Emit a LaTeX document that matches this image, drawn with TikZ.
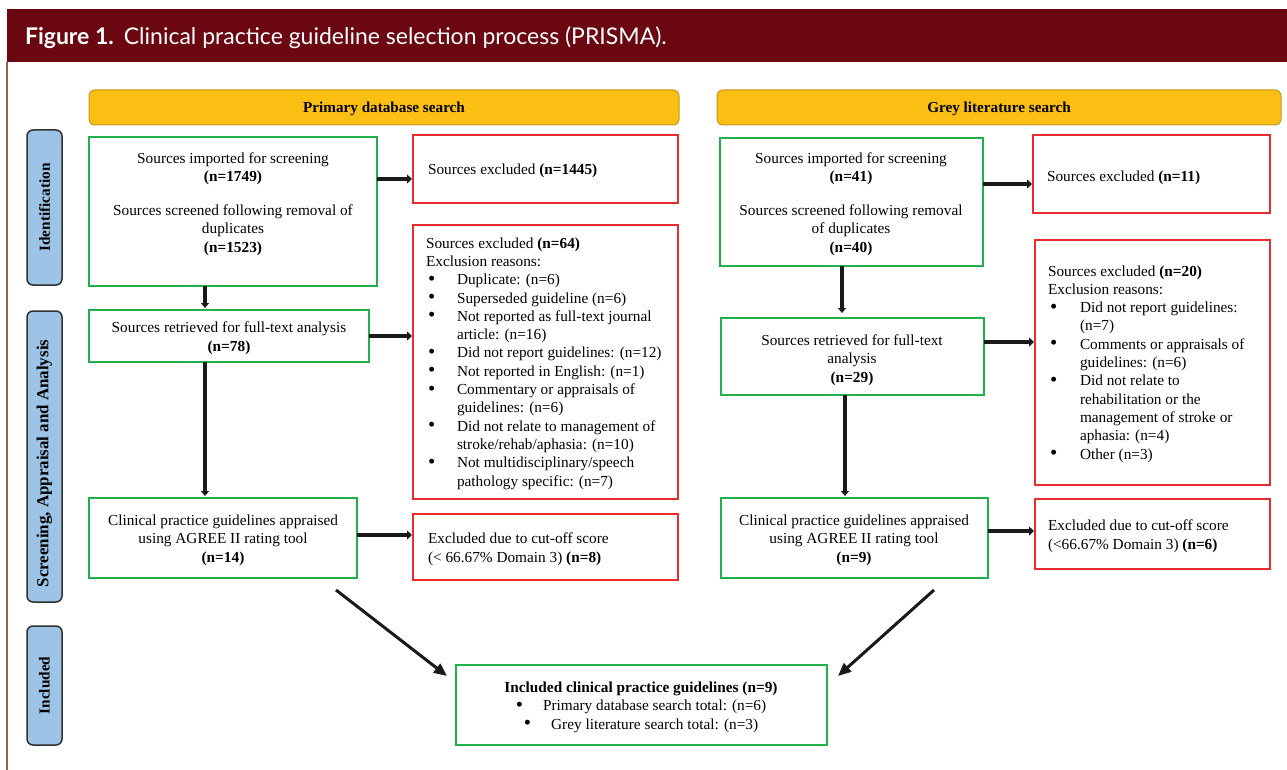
\documentclass[tikz,border=0pt]{standalone}
\usepackage{fontspec}
\setmainfont{Liberation Serif}
\newfontfamily\hfont{Lato}
\usetikzlibrary{arrows.meta,calc}
\definecolor{hdr}{HTML}{6B0710}
\definecolor{hdrline}{HTML}{A05A5A}
\definecolor{orangefill}{HTML}{FBBF13}
\definecolor{orangeedge}{HTML}{C9971F}
\definecolor{bluefill}{HTML}{9DC3E6}
\definecolor{blueedge}{HTML}{303030}
\definecolor{gedge}{HTML}{22B04B}
\definecolor{redge}{HTML}{EC2B2E}
\definecolor{arrc}{HTML}{1A1A1A}
\newcommand\mybox[6]{\node[#6, anchor=north west, minimum width={#4-#2}, minimum height={#5-#3}] (#1) at (#2,#3) {};}
\newcommand\bigbul{\raisebox{-0.5pt}{\scalebox{1.35}{\textbullet}}}
\newcommand\bl[1]{\makebox[#1][l]{\hspace{2pt}\bigbul}}
\begin{document}
\begin{tikzpicture}[x=1pt,y=-1pt,
  every node/.style={inner sep=0pt, outer sep=0pt},
  txt/.style={font=\fontsize{15.3}{18.3}\selectfont},
  gbox/.style={draw=gedge, line width=2pt},
  rbox/.style={draw=redge, line width=1.6pt},
  obar/.style={draw=orangeedge, fill=orangefill, line width=1pt, rounded corners=6pt},
  bbar/.style={draw=blueedge, fill=bluefill, line width=1.5pt, rounded corners=6pt},
  harr/.style={draw=arrc, line width=4pt, -{Triangle[length=5pt,width=9pt]}, shorten >=1pt},
  varr/.style={draw=arrc, line width=3.5pt, -{Triangle[length=5pt,width=8pt]}, shorten >=2pt},
  darr/.style={draw=arrc, line width=3pt, -{Triangle[length=13pt,width=11pt]}},
  vlab/.style={rotate=90, font=\fontsize{15.3}{17}\selectfont\bfseries}
]
\useasboundingbox (0,0) rectangle (1287,770);
\fill[white] (0,0) rectangle (1287,770);
% header
\fill[hdr] (7,9) rectangle (1287,62);
\draw[hdrline, line width=1.5pt] (7,62) -- (7,770);
\node[anchor=base west, text=white, font=\hfont\fontsize{23}{26}\selectfont] (title) at (25,45)
  {\textbf{Figure 1.}\hspace{10pt}Clinical practice guideline selection process (PRISMA).};

% column headers
\mybox{oL}{89}{90}{679}{125}{obar}
\mybox{oR}{717}{90}{1281}{125}{obar}
\node[font=\fontsize{15.2}{17}\selectfont\bfseries, anchor=base] (oLt) at (384,113) {Primary database search};
\node[font=\fontsize{15.2}{17}\selectfont\bfseries, anchor=base] (oRt) at (999,113) {Grey literature search};

% side labels
\mybox{b1}{27}{130}{62}{285}{bbar}
\mybox{b2}{27}{311}{62}{602}{bbar}
\mybox{b3}{27}{626}{62}{745}{bbar}
\node[vlab] (b1t) at (b1.center) {Identification};
\node[vlab, font=\fontsize{16.9}{18}\selectfont\bfseries] (b2t) at ([yshift=-7pt]b2.center) {Screening, Appraisal and Analysis};
\node[vlab] (b3t) at (b3.center) {Included};

% left column boxes
\mybox{g1}{89}{137}{377}{286}{gbox}
\mybox{r1}{413}{135}{678}{203}{rbox}
\mybox{r2}{413}{225}{678}{499}{rbox}
\mybox{g2}{89}{310}{369}{362}{gbox}
\mybox{g3}{89}{498}{357}{578}{gbox}
\mybox{r3}{413}{514}{678}{580}{rbox}

% multi-line text nodes: base anchor = baseline of last line
\node[txt, align=center, anchor=base] (g1t) at (233,252)
  {Sources imported for screening\\ \textbf{(n=1749)}\\[15.5pt]
   Sources screened following removal of\\ duplicates\\ \textbf{(n=1523)}};
\node[txt, anchor=base west] (r1t) at (428,175) {Sources excluded \textbf{(n=1445)}};
\node[txt, align=left, anchor=base west] (r2t) at (426,486)
  {Sources excluded \textbf{(n=64)}\\
   Exclusion reasons:\\
   \bl{31pt}Duplicate: (n=6)\\
   \bl{31pt}Superseded guideline (n=6)\\
   \bl{31pt}Not reported as full-text journal\\
   \hspace*{31pt}article: (n=16)\\
   \bl{31pt}Did not report guidelines: (n=12)\\
   \bl{31pt}Not reported in English: (n=1)\\
   \bl{31pt}Commentary or appraisals of\\
   \hspace*{31pt}guidelines: (n=6)\\
   \bl{31pt}Did not relate to management of\\
   \hspace*{31pt}stroke/rehab/aphasia: (n=10)\\
   \bl{31pt}Not multidisciplinary/speech\\
   \hspace*{31pt}pathology specific: (n=7)};
\node[txt, align=center, anchor=base] (g2t) at (229,351)
  {Sources retrieved for full-text analysis\\ \textbf{(n=78)}};
\node[txt, align=center, anchor=base] (g3t) at (223,562)
  {Clinical practice guidelines appraised\\ using AGREE II rating tool\\ \textbf{(n=14)}};
\node[txt, align=left, anchor=base west] (r3t) at (428,562)
  {Excluded due to cut-off score\\ (< 66.67\% Domain 3) \textbf{(n=8)}};

% right column boxes
\mybox{gR1}{720}{138}{983}{266}{gbox}
\mybox{rR1}{1033}{135}{1270}{213}{rbox}
\mybox{rR2}{1035}{240}{1270}{485}{rbox}
\mybox{gR2}{721}{318}{984}{395}{gbox}
\mybox{gR3}{721}{498}{988}{578}{gbox}
\mybox{rR3}{1035}{499}{1270}{569}{rbox}

\node[txt, align=center, anchor=base] (gR1t) at (851,252)
  {Sources imported for screening\\ \textbf{(n=41)}\\[15.5pt]
   Sources screened following removal\\ of duplicates\\ \textbf{(n=40)}};
\node[txt, anchor=base west] (rR1t) at (1047,182) {Sources excluded \textbf{(n=11)}};
\node[txt, align=left, anchor=base west] (rR2t) at (1048,459)
  {Sources excluded \textbf{(n=20)}\\
   Exclusion reasons:\\
   \bl{32pt}Did not report guidelines:\\
   \hspace*{32pt}(n=7)\\
   \bl{32pt}Comments or appraisals of\\
   \hspace*{32pt}guidelines: (n=6)\\
   \bl{32pt}Did not relate to\\
   \hspace*{32pt}rehabilitation or the\\
   \hspace*{32pt}management of stroke or\\
   \hspace*{32pt}aphasia: (n=4)\\
   \bl{32pt}Other (n=3)};
\node[txt, align=center, anchor=base] (gR2t) at (852,382)
  {Sources retrieved for full-text\\ analysis\\ \textbf{(n=29)}};
\node[txt, align=center, anchor=base] (gR3t) at (854,562)
  {Clinical practice guidelines appraised\\ using AGREE II rating tool\\ \textbf{(n=9)}};
\node[txt, align=left, anchor=base west] (rR3t) at (1048,549)
  {Excluded due to cut-off score\\ (<66.67\% Domain 3) \textbf{(n=6)}};

% final box
\mybox{fin}{456}{665}{827}{745}{gbox}
\node[txt, align=center, anchor=base] (fint) at (641,729)
  {\textbf{Included clinical practice guidelines (n=9)}\\
   \bigbul\hspace{20pt}Primary database search total: (n=6)\\
   \bigbul\hspace{20pt}Grey literature search total: (n=3)};

% connectors left
\draw[harr] ([yshift=-42pt]g1.north east) -- ([yshift=-42pt]g1.north east -| r1.west);
\draw[varr] ([xshift=116pt]g1.south west) -- ([xshift=116pt]g1.south west |- g2.north);
\draw[harr] (g2.east) -- (g2.east -| r2.west);
\draw[varr] ([xshift=116pt]g2.south west) -- ([xshift=116pt]g2.south west |- g3.north);
\draw[harr] ([yshift=3pt]g3.east) -- ([yshift=3pt]g3.east -| r3.west);
\draw[darr] ([xshift=-21pt,yshift=-12pt]g3.south east) -- ([xshift=-9pt,yshift=-11pt]fin.north west);

% connectors right
\draw[harr] ([yshift=-46pt]gR1.north east) -- ([yshift=-46pt]gR1.north east -| rR1.west);
\draw[varr] ([xshift=122pt]gR1.south west) -- ([xshift=122pt,yshift=3pt]gR1.south west |- gR2.north);
\draw[harr] ([yshift=-24pt]gR2.north east) -- ([yshift=-24pt]gR2.north east -| rR2.west);
\draw[varr] ([xshift=124pt]gR2.south west) -- ([xshift=124pt]gR2.south west |- gR3.north);
\draw[harr] ([yshift=-33pt]gR3.north east) -- ([yshift=-33pt]gR3.north east -| rR3.west);
\draw[darr] ([xshift=-54pt,yshift=-12pt]gR3.south east) -- ([xshift=11pt,yshift=-11pt]fin.north east);
\end{tikzpicture}
\end{document}
